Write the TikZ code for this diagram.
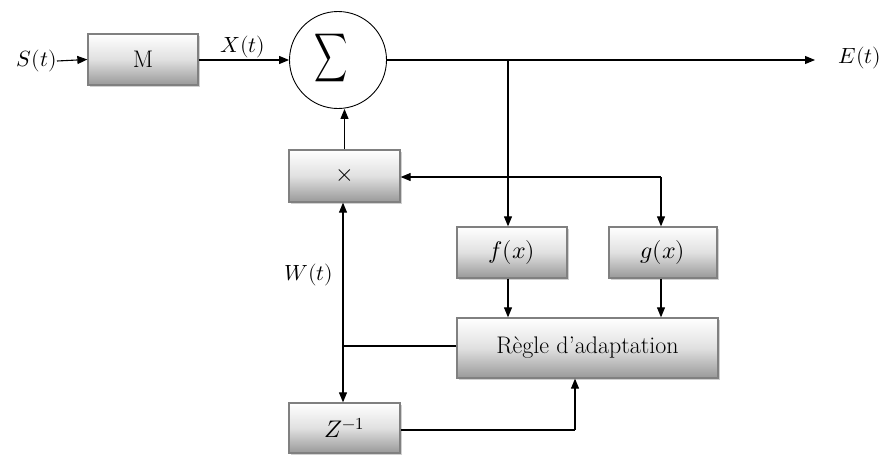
\documentclass[tikz,border=0pt]{standalone}
\usepackage{unicode-math}
\setmainfont{Latin Modern Roman}
\setmathfont{Latin Modern Math}
\usetikzlibrary{arrows.meta,shadows,calc}
\begin{document}
\begin{tikzpicture}[x=1pt,y=-1pt,
  blk/.style={draw=black!50, line width=1.3pt, top color=white, bottom color=black!40,
    middle color=black!12, shading angle=0, minimum height=51pt, inner sep=0pt,
    drop shadow={shadow xshift=1.5pt, shadow yshift=-1.5pt, fill=black!30, opacity=0.6},
    font=\fontsize{24}{28}\selectfont},
  sig/.style={line width=1.1pt, -{Triangle[length=10pt,width=8pt]}},
  wire/.style={line width=1.1pt},
  lbl/.style={font=\fontsize{22}{26}\selectfont, inner sep=0pt}
]
\useasboundingbox (0,0) rectangle (885,455);

% blocks
\node[blk, minimum width=110pt] (M) at (143,59.5) {M};
\node[draw, line width=0.9pt, fill=white, circle, minimum size=97pt, inner sep=0pt] (S) at (338,60) {};
\node[inner sep=0pt] (sigma) at (331,58)
  {\fontsize{20}{24}\selectfont\scalebox{1.15}[1.7]{$\displaystyle\sum$}};
\node[blk, minimum width=111pt, minimum height=52pt] (X) at (344.5,176) {$\times$};
\node[blk, minimum width=110pt] (F) at (512,252.5) {$f(x)$};
\node[blk, minimum width=108pt] (G) at (663,252.5) {$g(x)$};
\node[blk, minimum width=261pt, minimum height=60pt] (R) at (587.5,348) {R\`egle d'adaptation};
\node[blk, minimum width=111pt, minimum height=50pt] (Z) at (344.5,428) {$Z^{-1}$};

% labels
\node[lbl, anchor=east] (sin) at (57,61) {$S(t)$};
\node[lbl] (xl) at (243,47) {$X(t)$};
\node[lbl] (el) at (860,58) {$E(t)$};
\node[lbl] (wl) at (309,275) {$W(t)$};

% junctions and corners
\coordinate (out) at (815,60);
\coordinate (b1) at (508,60);
\coordinate (c1) at (661,177);
\coordinate (j1) at (343,346);
\coordinate (c2) at (575,430);

% connectors
\draw[sig] (sin.east) -- (M.west);
\draw[sig] (M.east |- S.west) -- (S.west);
\draw[wire] (S.east) -- (b1);
\draw[sig] (b1) -- (out);
\draw[sig] (b1) -- (b1 |- F.north);
\draw[sig] (X.north) -- (X.north |- S.south);
\draw[sig] (c1) -- (X.east |- c1);
\draw[sig] (c1) -- (c1 |- G.north);
\draw[sig] (b1 |- F.south) -- (b1 |- R.north);
\draw[sig] (c1 |- G.south) -- (c1 |- R.north);
\draw[wire] (R.west |- j1) -- (j1);
\draw[sig] (j1) -- (j1 |- X.south);
\draw[sig] (j1) -- (j1 |- Z.north);
\draw[wire] (Z.east |- c2) -- (c2);
\draw[sig] (c2) -- (c2 |- R.south);
\end{tikzpicture}
\end{document}
